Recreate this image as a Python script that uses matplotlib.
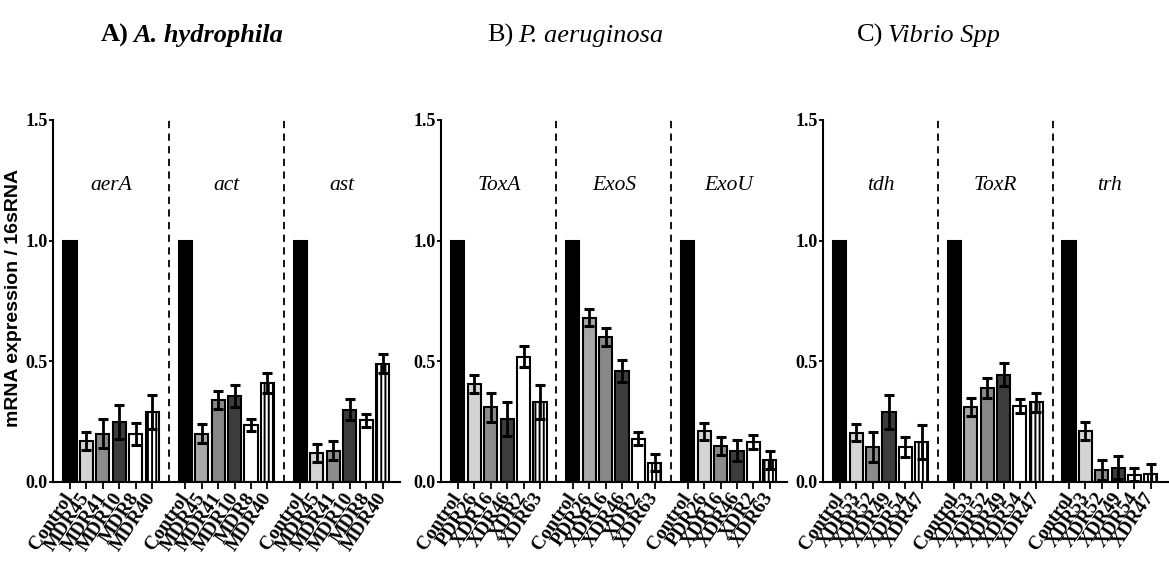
import matplotlib
matplotlib.use("Agg")
import matplotlib.pyplot as plt
import numpy as np

# panel titles
title_prefix = ["A)", "B)", "C)"]
title_species = ["A. hydrophila", "P. aeruginosa", "Vibrio Spp"]

# genes per panel
genes_a = ["aerA", "act", "ast"]
genes_b = ["ToxA", "ExoS", "ExoU"]
genes_c = ["tdh", "ToxR", "trh"]

# strains per panel (same for each gene group)
strains_a = ["Control", "MDR45", "MDR41", "MDR10", "MDR8", "MDR40"]
strains_b = ["Control", "PDR26", "XDR16", "XDR46", "XDR2", "XDR63"]
strains_c = ["Control", "XDR53", "XDR52", "XDR49", "XDR54", "XDR47"]

# relative expression, one row per gene
mean_a = [[1.0, 0.17, 0.20, 0.25, 0.20, 0.29],
          [1.0, 0.20, 0.34, 0.355, 0.235, 0.41],
          [1.0, 0.12, 0.13, 0.30, 0.255, 0.49]]
err_a = [[0, 0.037, 0.06, 0.07, 0.045, 0.07],
         [0, 0.04, 0.037, 0.045, 0.025, 0.04],
         [0, 0.036, 0.038, 0.045, 0.028, 0.04]]

mean_b = [[1.0, 0.405, 0.31, 0.26, 0.52, 0.33],
          [1.0, 0.68, 0.60, 0.46, 0.18, 0.08],
          [1.0, 0.21, 0.15, 0.13, 0.165, 0.09]]
err_b = [[0, 0.037, 0.06, 0.07, 0.045, 0.07],
         [0, 0.035, 0.038, 0.045, 0.028, 0.036],
         [0, 0.036, 0.037, 0.045, 0.028, 0.037]]

mean_c = [[1.0, 0.205, 0.145, 0.29, 0.145, 0.165],
          [1.0, 0.31, 0.39, 0.445, 0.315, 0.33],
          [1.0, 0.21, 0.05, 0.06, 0.03, 0.035]]
err_c = [[0, 0.035, 0.062, 0.07, 0.042, 0.07],
         [0, 0.037, 0.04, 0.048, 0.03, 0.039],
         [0, 0.038, 0.04, 0.046, 0.027, 0.038]]

plt.rcParams['hatch.linewidth'] = 1.4

fills_outer = ["#000000", "#d4d4d4", "#8c8c8c", "#3c3c3c", "#ffffff", "#ffffff"]
fills_middle = ["#000000", "#a8a8a8", "#888888", "#3c3c3c", "#ffffff", "#ffffff"]

fig = plt.figure(figsize=(11.69, 5.66), dpi=100)

W, H = 1169, 566
panels = [
    (53, 400, genes_a, strains_a, mean_a, err_a),
    (441, 787, genes_b, strains_b, mean_b, err_b),
    (823, 1168, genes_c, strains_c, mean_c, err_c),
]
y_bottom, y_top = 482, 120

for left, right, genes, strains, means, errs in panels:
    ax = fig.add_axes([left / W, 1 - y_bottom / H, (right - left) / W, (y_bottom - y_top) / H])
    ticks, labels = [], []
    for g, gene in enumerate(genes):
        fills = fills_middle if g == 1 else fills_outer
        for i in range(len(strains)):
            x = g * 7 + i
            ax.bar(x, means[g][i], width=0.8, color=fills[i], edgecolor="black",
                   linewidth=1.5, hatch="||||" if i == 5 else None, zorder=2)
            if i > 0:
                ax.errorbar(x, means[g][i], yerr=errs[g][i], color="black",
                            elinewidth=2, capsize=3.5, capthick=2.2, zorder=3)
            ticks.append(x)
            labels.append(strains[i])
        ax.text(g * 7 + 2.5, 1.23, gene, ha="center", va="center",
                fontsize=15.5, fontstyle="italic", family="Liberation Serif")
        if g < 2:
            ax.plot([g * 7 + 6, g * 7 + 6], [0, 1.5], color="black", lw=1.3,
                    ls=(0, (4, 3)), zorder=1)
    ax.set_xlim(-1.03, 20.05)
    ax.set_ylim(0, 1.5)
    ax.set_yticks([0, 0.5, 1.0, 1.5])
    ax.set_yticklabels(["0.0", "0.5", "1.0", "1.5"], family="Liberation Serif",
                       fontweight="bold", fontsize=13)
    ax.set_xticks(ticks)
    ax.set_xticklabels(labels, rotation=56, ha="right", va="center",
                       rotation_mode="anchor", family="Liberation Serif",
                       fontweight="bold", fontsize=14)
    ax.tick_params(axis="x", length=5, width=1.3, pad=4)
    ax.tick_params(axis="y", length=3, width=1.3, pad=1)
    for s in ["top", "right"]:
        ax.spines[s].set_visible(False)
    for s in ["left", "bottom"]:
        ax.spines[s].set_linewidth(1.5)

# titles
split_x = [131, 516, 886]
weights = ["bold", "normal", "normal"]
for k in range(3):
    fig.text(split_x[k] / W - 0.002, 1 - 42 / H, title_prefix[k], ha="right",
             va="baseline", fontsize=19, family="Liberation Serif", fontweight=weights[k])
    fig.text(split_x[k] / W + 0.002, 1 - 42 / H, title_species[k], ha="left",
             va="baseline", fontsize=19, family="Liberation Serif",
             fontweight=weights[k], fontstyle="italic")

fig.text(14 / W, 1 - 298 / H, "mRNA expression / 16sRNA", rotation=90,
         ha="center", va="center", fontsize=14, fontweight="bold",
         family="Liberation Sans")

fig.savefig("out.png", dpi=100)
